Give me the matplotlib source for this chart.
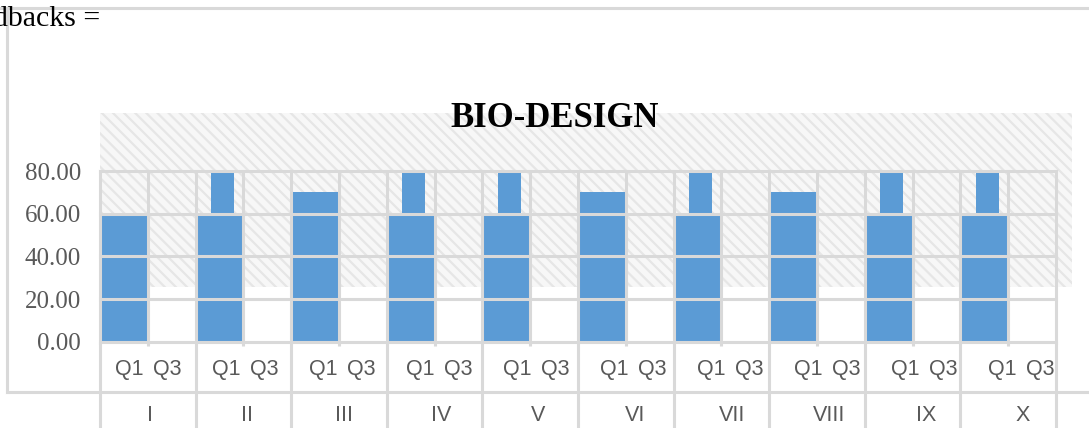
import matplotlib.pyplot as plt
from matplotlib.patches import Rectangle
from matplotlib.lines import Line2D

# data
groups = ['I', 'II', 'III', 'IV', 'V', 'VI', 'VII', 'VIII', 'IX', 'X']
sub_labels = ['Q1', 'Q3']
q1 = [60, 60, 70, 60, 60, 70, 60, 70, 60, 60]
q3 = [0, 0, 0, 0, 0, 0, 0, 0, 0, 0]
q1_top = [0, 80, 0, 80, 80, 0, 80, 0, 80, 80]
y_ticks = [0, 20, 40, 60, 80]

BLUE = '#5b9bd5'
GRID = '#d9d9d9'
TXT = '#595959'
SERIF = 'Liberation Serif'
SANS = 'Liberation Sans'

plt.rcParams['hatch.linewidth'] = 1.6

W, H = 1089, 428
fig = plt.figure(figsize=(W / 100, H / 100), dpi=100)
ax = fig.add_axes([100 / W, (H - 341.7) / H, 956 / W, 170.7 / H])
ax.patch.set_visible(False)
n = len(groups)
ax.set_xlim(0, 2 * n)
ax.set_ylim(0, 80)

# hatched plot-area fill
bg = Rectangle((0, 25.8), 20.33, 81.2, facecolor='#f7f7f7', edgecolor='#e6e6e6',
               hatch='\\\\\\', linewidth=0, zorder=0, clip_on=False)
ax.add_patch(bg)

x_q1 = [2 * i + 0.5 for i in range(n)]
x_q3 = [2 * i + 1.5 for i in range(n)]
ax.bar(x_q1, q1, width=1.0, color=BLUE, zorder=2)
ax.bar(x_q3, q3, width=1.0, color=BLUE, zorder=2)

# narrow bars on top
xs, bots, hts = [], [], []
for i in range(n):
    if q1_top[i] > 0:
        xs.append(x_q1[i] + 0.06)
        bots.append(q1[i])
        hts.append(q1_top[i] - q1[i])
ax.bar(xs, hts, bottom=bots, width=0.48, color=BLUE, zorder=2)

# grid
for y in y_ticks:
    ax.axhline(y, color=GRID, lw=2.2, zorder=3, clip_on=False)
for i in range(2 * n + 1):
    ax.axvline(i, color=GRID, lw=2.2, zorder=3, clip_on=False)

# category table lines below the axis
bottom_frac = -(H - 341.7) / 170.7
ax.vlines(range(0, 2 * n + 1, 2), bottom_frac, 0, transform=ax.get_xaxis_transform(),
          color=GRID, lw=2.2, clip_on=False)
ax.vlines(range(1, 2 * n, 2), -0.025, 0, transform=ax.get_xaxis_transform(),
          color=GRID, lw=2.2, clip_on=False)

for s in ax.spines.values():
    s.set_visible(False)
ax.set_xticks([])
ax.set_yticks(y_ticks)
ax.set_yticklabels([f'{v:.2f}' for v in y_ticks], fontfamily=SERIF, fontsize=18, color=TXT)
ax.tick_params(axis='y', length=0, pad=13.5)

tr = ax.get_xaxis_transform()
stretch = 1.0145
for i in range(n):
    ax.text(x_q1[i] * stretch + 0.1, -0.16, sub_labels[0], transform=tr, ha='center', va='center',
            fontfamily=SANS, fontsize=15.5, color=TXT, clip_on=False)
    ax.text(x_q3[i] * stretch - 0.12, -0.16, sub_labels[1], transform=tr, ha='center', va='center',
            fontfamily=SANS, fontsize=15.5, color=TXT, clip_on=False)
    ax.text((x_q1[i] + 0.5) * stretch + 0.03, -0.43, groups[i], transform=tr, ha='center', va='center',
            fontfamily=SANS, fontsize=15.5, color=TXT, clip_on=False)

fig.text(555 / W, (H - 126.7) / H, 'BIO-DESIGN', fontfamily=SERIF, fontweight='bold',
         fontsize=25, ha='center', va='baseline')

# chart frame lines
fig.add_artist(Line2D([0, 1], [(H - 8) / H] * 2, color=GRID, lw=2.2))
fig.add_artist(Line2D([7 / W] * 2, [(H - 392) / H, (H - 8) / H], color=GRID, lw=2.2))
fig.add_artist(Line2D([7 / W, 1], [(H - 392) / H] * 2, color=GRID, lw=2.2))

fig.text(100 / W, (H - 26) / H, 'dbacks =', fontfamily=SERIF, fontsize=21.5, ha='right', va='baseline')

fig.savefig('out.png', dpi=100)
